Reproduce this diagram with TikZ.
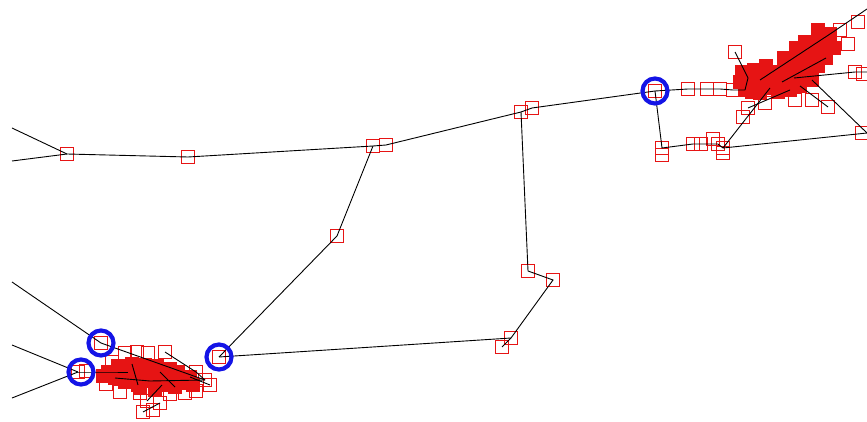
\documentclass[tikz,border=0pt]{standalone}
\definecolor{sqred}{RGB}{230,20,20}
\definecolor{ringblue}{RGB}{20,20,230}
\tikzset{
  sq/.style={shape=rectangle, draw=sqred, line width=1.3pt, minimum size=13pt, inner sep=0pt},
  sqd/.style={sq, line width=1.8pt},
  sqf/.style={sq, fill=sqred},
  link/.style={draw=black, line width=0.9pt},
  ring/.style={shape=circle, draw=ringblue, line width=4.2pt, minimum size=25pt, inner sep=0pt},
}
\begin{document}
\begin{tikzpicture}[x=1pt, y=-1pt]
\useasboundingbox[fill=white] (0,0) rectangle (867,422);

% loose ends at the left border
\coordinate (w1) at (12,128);
\coordinate (w2) at (12,161);
\coordinate (w3) at (12,282);
\coordinate (w4) at (12,345);
\coordinate (w5) at (12,398);
% loose ends at the right border
\coordinate (e1) at (867,133);
\coordinate (e2) at (867,9);
\coordinate (e3) at (867,72);

% ---- main chain ----
\node[sqd] (a1) at (67,154) {};
\node[sq]  (a2) at (188,157) {};
\node[sq]  (a3) at (373,146) {};
\node[sqd] (a4) at (386,145) {};
\node[sqd] (a5) at (521,112) {};
\node[sqd] (a6) at (532,108) {};
\node[sq]  (a7) at (655,91) {};
\node[sqd] (a8) at (337,236) {};
\node[sq]  (a9) at (219,357) {};
\node[sqd] (a10) at (528,271) {};
\node[sq]  (a11) at (553,280) {};
\node[sq]  (a12) at (511,338) {};
\node[sqd] (a13) at (502,347) {};

% ---- lower left cluster ----
\node[sq] (b1) at (101,343) {};
\node[sq] (b2) at (78,372) {};
\node[sq] (b3) at (86,371) {};
\node[sq] (b4) at (125,353) {};
\node[sq] (b5) at (137,352) {};
\node[sq] (b6) at (148,353) {};
\node[sq] (b7) at (165,352) {};
\node[sq] (b8) at (205,380) {};
\node[sq] (b9) at (210,385) {};
\node[sq] (b10) at (196,391) {};
\node[sq] (b11) at (147,401) {};
\node[sq] (b12) at (153,410) {};
\node[sq] (b13) at (143,412) {};
\node[sq] (b14) at (160,403) {};
\node[sq] (b15) at (106,384) {};
\node[sq] (b16) at (196,372) {};
\foreach \i/\x/\y in {1/108/372, 2/118/366, 3/128/372, 4/140/370, 5/150/374,
  6/160/372, 7/170/376, 8/180/378, 9/190/377, 10/125/382, 11/138/385,
  12/150/381, 13/162/385, 14/175/387, 15/185/383, 16/145/365, 17/115/378,
  18/193/385, 19/132/364, 20/155/390, 21/120/373, 22/134/377, 23/146/376,
  24/158/378, 25/168/382, 26/178/372, 27/157/366, 28/103/376, 29/140/388,
  30/170/369}
  \node[sqf] (bf\i) at (\x,\y) {};
\foreach \i/\x/\y in {1/120/392, 2/140/393, 3/170/394, 4/185/393, 5/112/362}
  \node[sq] (bo\i) at (\x,\y) {};

% ---- upper right cluster ----
\node[sq] (c1) at (688,89) {};
\node[sq] (c2) at (707,89) {};
\node[sq] (c3) at (720,89) {};
\node[sq] (c4) at (733,90) {};
\node[sq] (c5) at (735,52) {};
\node[sq] (c6) at (748,108) {};
\node[sq] (c7) at (765,103) {};
\node[sq] (c8) at (743,117) {};
\node[sq] (c9) at (828,107) {};
\node[sq] (c10) at (855,72) {};
\node[sq] (c11) at (863,74) {};
\node[sq] (c12) at (858,22) {};
\node[sq] (c13) at (840,30) {};
\node[sq] (c14) at (812,100) {};
\node[sq] (c15) at (862,133) {};
\node[sq] (c16) at (848,44) {};
\node[sq] (c17) at (795,100) {};
\foreach \i/\x/\y in {1/745/90, 2/752/84, 3/760/80, 4/768/76, 5/776/72, 6/784/67,
  7/792/62, 8/800/56, 9/808/50, 10/816/44, 11/824/38, 12/830/34, 13/770/88,
  14/782/82, 15/794/78, 16/806/72, 17/790/90, 18/800/86, 19/812/80, 20/818/66,
  21/826/58, 22/760/93, 23/778/92, 24/742/72, 25/748/78, 26/740/82, 27/834/48,
  28/788/76, 29/798/68, 30/810/60, 31/820/52, 32/764/86, 33/776/82, 34/752/92,
  35/784/58, 36/796/48, 37/805/42, 38/818/30, 39/754/70, 40/766/66}
  \node[sqf] (cf\i) at (\x,\y) {};

% ---- lower right row ----
\node[sqd] (d1) at (662,148) {};
\node[sq]  (d2) at (662,155) {};
\node[sq]  (d3) at (693,144) {};
\node[sq]  (d4) at (701,144) {};
\node[sq]  (d5) at (713,139) {};
\node[sq]  (d6) at (718,144) {};
\node[sqd] (d7) at (723,148) {};
\node[sq]  (d8) at (723,153) {};

% ---- links ----
\draw[link] (w1) -- (a1.center);
\draw[link] (w2) -- (a1.center);
\draw[link] (a1.center) -- (a2.center) -- (a3.center) -- (a4.center)
            -- (a5.center) -- (a6.center) -- (a7.center);
\draw[link] (a3.center) -- (a8.center) -- (a9.center);
\draw[link] (a5.center) -- (a10.center) -- (a11.center) -- (a12.center) -- (a13.center);
\draw[link] (a12.center) -- (a9.center);

\draw[link] (w3) -- (b1.center);
\draw[link] (w4) -- (b2.center);
\draw[link] (w5) -- (b2.center);
\draw[link] (b1.center) -- (b8.center);
\draw[link] (b2.center) -- (bf1.center) -- (bf3.center);
\draw[link] (bf17.center) -- (bf12.center) -- (b8.center);
\draw[link] (b7.center) -- (b16.center) -- (b8.center);
\draw[link] (bf19.center) -- (bf11.center);
\draw[link] (bf6.center) -- (bf14.center);
\draw[link] (b11.center) -- (bf13.center);
\draw[link] (b13.center) -- (b14.center);
\draw[link] (b9.center) -- (bf9.center);

\draw[link] (a7.center) -- (c1.center) -- (c2.center) -- (c3.center) -- (c4.center) -- (cf1.center);
\draw[link] (c5.center) -- (cf25.center) -- (cf1.center);
\draw[link] (cf13.center) -- (d7.center);
\draw[link] (cf3.center) -- (cf12.center) -- (e2);
\draw[link] (cf15.center) -- (c10.center) -- (e3);
\draw[link] (cf18.center) -- (c9.center);
\draw[link] (cf19.center) -- (e1);
\draw[link] (cf17.center) -- (c6.center);
\draw[link] (cf14.center) -- (cf21.center);
\draw[link] (a7.center) -- (d1.center) -- (d3.center) -- (d4.center) -- (d6.center) -- (d7.center) -- (e1);

% ---- highlighted nodes ----
\node[ring] (r1) at (b1) {};
\node[ring] (r2) at (81,372) {};
\node[ring] (r3) at (a9) {};
\node[ring] (r4) at (a7) {};
\end{tikzpicture}
\end{document}
